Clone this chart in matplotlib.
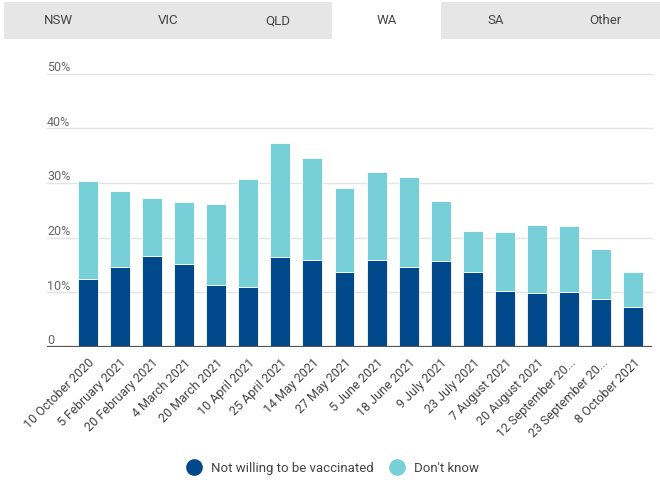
import matplotlib.pyplot as plt
from matplotlib.patches import Rectangle
from matplotlib.lines import Line2D

dates = ['10 October 2020', '5 February 2021', '20 February 2021', '4 March 2021',
         '20 March 2021', '10 April 2021', '25 April 2021', '14 May 2021',
         '27 May 2021', '5 June 2021', '18 June 2021', '9 July 2021',
         '23 July 2021', '7 August 2021', '20 August 2021', '12 September 20...',
         '23 September 20...', '8 October 2021']
not_willing = [12.5, 14.6, 16.6, 15.1, 11.3, 10.9, 16.5, 15.9, 13.7,
               15.9, 14.6, 15.7, 13.7, 10.2, 9.8, 10.0, 8.8, 7.3]
total = [30.3, 28.6, 27.2, 26.5, 26.1, 30.8, 37.3, 34.5, 29.1,
         32.0, 31.1, 26.8, 21.3, 21.0, 22.4, 22.2, 18.0, 13.7]
dont_know = [t - n for t, n in zip(total, not_willing)]

tabs = ['NSW', 'VIC', 'QLD', 'WA', 'SA', 'Other']
active_tab = 'WA'

dark = '#02498b'
light = '#77cfd8'

plt.rcParams['font.family'] = ['Roboto', 'DejaVu Sans']

fig = plt.figure(figsize=(6.6, 4.81), dpi=100)

# tab strip at the top
W, H = 660, 481
tab_w = 656 / len(tabs)
for i, name in enumerate(tabs):
    x0 = 4 + i * tab_w
    fc = 'white' if name == active_tab else '#e6e6e6'
    fig.patches.append(Rectangle((x0 / W, 1 - 40 / H), tab_w / W, 37 / H,
                                 transform=fig.transFigure, facecolor=fc,
                                 edgecolor='none'))
    fig.text((x0 + tab_w / 2) / W, 1 - 21 / H, name, ha='center', va='center',
             fontsize=9.5, color='#444444')

ax = fig.add_axes([47 / W, 1 - 348 / H, 605 / W, (348 - 74.7) / H])
x = list(range(len(dates)))
ax.bar(x, not_willing, width=0.62, color=dark, edgecolor='white', linewidth=0.6, zorder=3)
ax.bar(x, dont_know, width=0.62, bottom=not_willing, color=light,
       edgecolor='white', linewidth=0.6, zorder=3)

ax.set_xlim(-1.27, 17.58)
ax.set_ylim(0, 50)
for spine in ax.spines.values():
    spine.set_visible(False)
ax.axhline(0, color='#555555', linewidth=1.6, zorder=4)
for v in [10, 20, 30, 40, 50]:
    ax.axhline(v, color='#e4e4e4', linewidth=1, zorder=1, clip_on=False)
for v, lab in zip([0, 10, 20, 30, 40, 50], ['0', '10%', '20%', '30%', '40%', '50%']):
    ax.text(0, v + 0.1, lab, transform=ax.get_yaxis_transform(), ha='left',
            va='bottom', fontsize=9, color='#666666')

ax.set_yticks([])
ax.set_xticks(x)
ax.set_xticklabels(dates, rotation=45, ha='right', va='top', rotation_mode='anchor',
                   fontsize=9, color='#444444')
ax.tick_params(axis='x', length=0, pad=6)

handles = [Line2D([], [], marker='o', linestyle='none', markersize=11, color=dark),
           Line2D([], [], marker='o', linestyle='none', markersize=11, color=light)]
fig.legend(handles, ['Not willing to be vaccinated', "Don't know"], loc='center',
           bbox_to_anchor=(0.5, 1 - 469 / H), ncol=2, frameon=False, fontsize=9.5,
           handletextpad=0.3, columnspacing=0.8, labelcolor='#444444')

fig.savefig('out.png', dpi=100)
